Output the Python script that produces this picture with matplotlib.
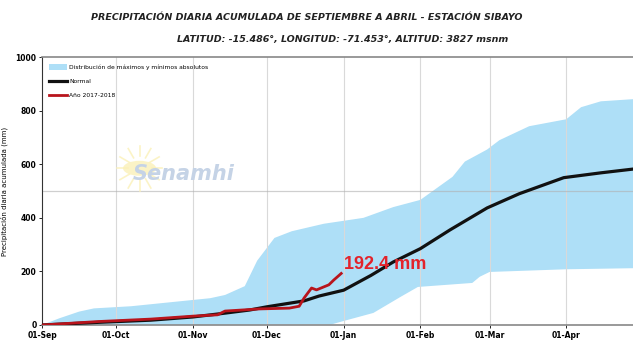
import matplotlib
matplotlib.use("Agg")
import matplotlib.pyplot as plt
import matplotlib.dates as mdates
import pandas as pd
import numpy as np

# ---- data ----
upper_dates = ["2017-09-01", "2017-09-08", "2017-09-16", "2017-09-22", "2017-10-07", "2017-10-23",
               "2017-11-08", "2017-11-14", "2017-11-22", "2017-11-27", "2017-12-04", "2017-12-11",
               "2017-12-24", "2018-01-09", "2018-01-21", "2018-02-01", "2018-02-14", "2018-02-19",
               "2018-02-28", "2018-03-05", "2018-03-17", "2018-04-01", "2018-04-07", "2018-04-15",
               "2018-04-28"]
upper_vals = [0, 25, 50, 62, 70, 85, 100, 112, 145, 240, 325, 350, 378, 400, 440, 467, 553, 610,
              655, 690, 742, 768, 813, 835, 843]

lower_dates = ["2017-09-01", "2017-12-27", "2018-01-01", "2018-01-13", "2018-01-24", "2018-01-31",
               "2018-02-22", "2018-02-25", "2018-03-01", "2018-04-01", "2018-04-28"]
lower_vals = [0, 2, 15, 45, 105, 142, 157, 180, 198, 208, 212]

normal_dates = ["2017-09-01", "2017-09-24", "2017-10-15", "2017-11-01", "2017-11-12", "2017-11-24",
                "2017-12-01", "2017-12-16", "2017-12-22", "2018-01-01", "2018-01-12", "2018-01-21",
                "2018-02-01", "2018-02-13", "2018-02-28", "2018-03-13", "2018-03-31", "2018-04-15",
                "2018-04-28"]
normal_vals = [0, 10, 18, 30, 42, 56, 68, 90, 108, 130, 185, 235, 285, 355, 437, 490, 550, 568, 582]

year_dates = ["2017-09-01", "2017-09-24", "2017-10-15", "2017-11-01", "2017-11-11", "2017-11-14",
              "2017-11-28", "2017-12-10", "2017-12-14", "2017-12-16", "2017-12-19", "2017-12-21",
              "2017-12-26", "2017-12-28", "2017-12-31"]
year_vals = [0, 13, 22, 33, 38, 52, 60, 63, 70, 101, 138, 131, 150, 168, 192.4]

month_ticks = ["2017-09-01", "2017-10-01", "2017-11-01", "2017-12-01", "2018-01-01",
               "2018-02-01", "2018-03-01", "2018-04-01"]
month_labels = ["01-Sep", "01-Oct", "01-Nov", "01-Dec", "01-Jan", "01-Feb", "01-Mar", "01-Apr"]
y_ticks = [0, 200, 400, 600, 800, 1000]

title1 = "PRECIPITACIÓN DIARIA ACUMULADA DE SEPTIEMBRE A ABRIL - ESTACIÓN SIBAYO"
title2 = "LATITUD: -15.486°, LONGITUD: -71.453°, ALTITUD: 3827 msnm"
annot = "192.4 mm"

# ---- plotting ----
fig = plt.figure(figsize=(6.33, 3.43), dpi=100)
ax = fig.add_axes([0.0664, 0.0525, 0.9336, 0.781])

ud = pd.to_datetime(upper_dates)
ld = pd.to_datetime(lower_dates)
poly_x = np.concatenate([mdates.date2num(ud), mdates.date2num(ld)[::-1]])
poly_y = np.concatenate([upper_vals, lower_vals[::-1]])
band = ax.fill(poly_x, poly_y, color="#aedff7", lw=0, zorder=1,
               label="Distribución de máximos y mínimos absolutos")[0]

# grid
for t in month_ticks[1:]:
    ax.axvline(pd.Timestamp(t), color="#d9d9d9", lw=0.8, zorder=2)
ax.axhline(500, color="#b0b0b0", lw=0.9, alpha=0.6, zorder=2)

# watermark logo (sun + text)
sun_c = (0.165, 0.585)
ax.add_patch(plt.Circle(sun_c, 0.028, transform=ax.transAxes, color="#fbf1b8",
                        alpha=0.8, lw=0, zorder=2))
for ang in np.linspace(0, 2 * np.pi, 12, endpoint=False):
    r0, r1 = 0.045, 0.085
    ax.plot([sun_c[0] + r0 * np.cos(ang) * 0.45, sun_c[0] + r1 * np.cos(ang) * 0.45],
            [sun_c[1] + r0 * np.sin(ang), sun_c[1] + r1 * np.sin(ang)],
            transform=ax.transAxes, color="#fbf1b8", lw=1.2, alpha=0.8, zorder=2)
ax.text(0.24, 0.565, "Senamhi", transform=ax.transAxes, fontsize=15, color="#c5d3e6",
        fontweight="bold", style="italic", ha="center", va="center", zorder=2)

ln_normal, = ax.plot(pd.to_datetime(normal_dates), normal_vals, color="#111111", lw=2.3,
                     zorder=4, label="Normal")
ln_year, = ax.plot(pd.to_datetime(year_dates), year_vals, color="#b8141c", lw=2.0, zorder=5,
                   label="Año 2017-2018")

ax.text(pd.Timestamp("2018-01-01"), 226, annot, color="#e3232b", fontsize=13, fontweight="bold",
        family="Liberation Sans", ha="left", va="center", zorder=6)

ax.set_xlim(pd.Timestamp("2017-09-01"), pd.Timestamp("2018-04-28"))
ax.set_ylim(0, 1000)
ax.set_xticks(pd.to_datetime(month_ticks))
ax.set_xticklabels(month_labels, fontsize=5.5, fontweight="bold")
ax.set_yticks(y_ticks)
ax.set_yticklabels([str(v) for v in y_ticks], fontsize=5.5, fontweight="bold")
ax.tick_params(axis="both", length=2, width=0.6, pad=2)
ax.set_ylabel("Precipitación diaria acumulada (mm)", fontsize=5)
ax.yaxis.set_label_coords(-0.058, 0.5)

ax.spines["left"].set_color("#333333")
for s in ["top", "bottom"]:
    ax.spines[s].set_color("#888888")
    ax.spines[s].set_linewidth(1.2)
ax.spines["right"].set_visible(False)

ax.legend(handles=[band, ln_normal, ln_year], loc="upper left",
          frameon=False, handlelength=3.0, handleheight=1.3, borderaxespad=0.7,
          labelspacing=1.3, handletextpad=0.4, prop={"size": 4.3})

fig.text(0.485, 0.95, title1, fontsize=6.8, fontweight="bold", style="italic",
         ha="center", va="center", color="#222222")
fig.text(0.542, 0.885, title2, fontsize=6.8, fontweight="bold", style="italic",
         ha="center", va="center", color="#222222")

fig.savefig("out.png", dpi=100)
